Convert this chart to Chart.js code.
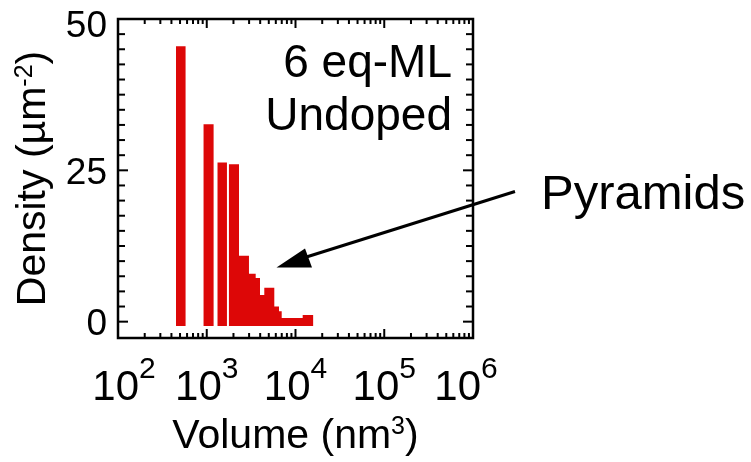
<!DOCTYPE html>
<html>
<head>
<meta charset="utf-8">
<script src="https://cdn.jsdelivr.net/npm/chart.js@4/dist/chart.umd.min.js"></script>
<style>
  body { margin: 0; background: #fff; }
</style>
</head>
<body>
<canvas id="chart" width="751" height="462"></canvas>
<script>
// histogram bins (nm^3) and densities (um^-2)
const binStart = [450, 915, 1315, 1770, 2310, 2990, 3560, 3980, 4450, 5770, 6520, 6990, 12050];
const binEnd   = [580, 1200, 1690, 2310, 2990, 3560, 3980, 4450, 5770, 6520, 6990, 12050, 15900];
const density  = [45.5, 32.6, 26.3, 26.0, 10.9, 7.9, 7.2, 4.4, 5.6, 2.5, 1.7, 0.6, 1.1];
const barBase = -0.7;

const xDecades = [2, 3, 4, 5, 6];
const yTickLabels = [0, 25, 50];

const FONT = "'Liberation Sans', Arial, sans-serif";
const RED = '#dd0707';

// bins that touch are drawn as one stepped outline so no seams show
const groups = [];
density.forEach((d, i) => {
  const pts = [{ x: binStart[i], y: d }, { x: binEnd[i], y: d }];
  if (i > 0 && binStart[i] === binEnd[i - 1]) groups[groups.length - 1].push(...pts);
  else groups.push(pts);
});

const datasets = groups.map(pts => ({
  data: pts,
  borderWidth: 0,
  pointRadius: 0,
  backgroundColor: RED,
  fill: { value: barBase },
  tension: 0,
}));

// text with a raised exponent, centred at x
function supText(ctx, parts, x, y) {
  let w = 0;
  parts.forEach(p => { ctx.font = p.size + 'px ' + FONT; w += ctx.measureText(p.t).width; });
  let cx = x - w / 2;
  ctx.textAlign = 'left';
  ctx.textBaseline = 'alphabetic';
  parts.forEach(p => {
    ctx.font = p.size + 'px ' + FONT;
    ctx.fillText(p.t, cx, y - (p.rise || 0));
    cx += ctx.measureText(p.t).width;
  });
}

const framePlugin = {
  id: 'frame',
  afterDraw(chart) {
    const { ctx, chartArea: a, scales: { x, y } } = chart;
    ctx.save();
    ctx.strokeStyle = '#000';
    ctx.fillStyle = '#000';
    ctx.lineWidth = 2;
    const seg = (x1, y1, x2, y2) => { ctx.beginPath(); ctx.moveTo(x1, y1); ctx.lineTo(x2, y2); ctx.stroke(); };

    // log ticks, top and bottom, pointing in
    for (let d = 2; d < 6; d++) {
      for (let m = 1; m < 10; m++) {
        const px = x.getPixelForValue(m * Math.pow(10, d));
        const len = m === 1 ? 9 : 5;
        seg(px, a.bottom, px, a.bottom - len);
        seg(px, a.top, px, a.top + len);
      }
    }
    // y ticks every 2.5
    for (let v = 0; v <= 50; v += 2.5) {
      const py = y.getPixelForValue(v);
      const len = v % 25 === 0 ? 10 : 7;
      seg(a.left, py, a.left + len, py);
      seg(a.right, py, a.right - len, py);
    }
    ctx.lineWidth = 2.5;
    ctx.strokeRect(a.left, a.top, a.right - a.left, a.bottom - a.top);

    // y tick labels
    ctx.font = '37px ' + FONT;
    ctx.textAlign = 'right';
    ctx.textBaseline = 'alphabetic';
    yTickLabels.forEach(v => {
      const py = y.getPixelForValue(v);
      ctx.fillText(String(v), a.left - 11, Math.max(py + 13.5, a.top + 17.5));
    });

    // x tick labels 10^n
    xDecades.forEach((n, i) => {
      let px = x.getPixelForValue(Math.pow(10, n));
      if (i === 0) px += 6;
      if (i === xDecades.length - 1) px -= 7;
      supText(ctx, [{ t: '10', size: 42 }, { t: String(n), size: 30, rise: 22 }], px, 400);
    });

    // axis titles
    supText(ctx, [{ t: 'Volume (nm', size: 41 }, { t: '3', size: 25, rise: 14 }, { t: ')', size: 41 }],
      (a.left + a.right) / 2, 448);
    ctx.save();
    ctx.translate(45, (a.top + a.bottom) / 2);
    ctx.rotate(-Math.PI / 2);
    supText(ctx, [{ t: 'Density (\u00b5m', size: 41 }, { t: '-2', size: 25, rise: 13 }, { t: ')', size: 41 }], 0, 0);
    ctx.restore();

    // annotation
    ctx.font = '46px ' + FONT;
    ctx.textAlign = 'right';
    ctx.fillText('6 eq-ML', 452, 76.5);
    ctx.fillText('Undoped', 452, 129.5);

    ctx.font = '49px ' + FONT;
    ctx.textAlign = 'left';
    ctx.fillText('Pyramids', 541, 209);

    // arrow
    ctx.lineWidth = 3;
    seg(515, 191.5, 300, 259);
    ctx.beginPath();
    ctx.moveTo(276.5, 267.5);
    ctx.lineTo(305, 248.5);
    ctx.lineTo(312, 267.5);
    ctx.closePath();
    ctx.fill();

    ctx.restore();
  }
};

new Chart(document.getElementById('chart').getContext('2d'), {
  type: 'line',
  data: { datasets: datasets },
  options: {
    responsive: false,
    animation: false,
    layout: { padding: { left: 118, top: 19, right: 278, bottom: 124 } },
    plugins: { legend: { display: false }, tooltip: { enabled: false } },
    scales: {
      x: { type: 'logarithmic', min: 100, max: 1e6, display: false },
      y: { type: 'linear', min: -2.7, max: 50, display: false },
    },
  },
  plugins: [framePlugin],
});
</script>
</body>
</html>
